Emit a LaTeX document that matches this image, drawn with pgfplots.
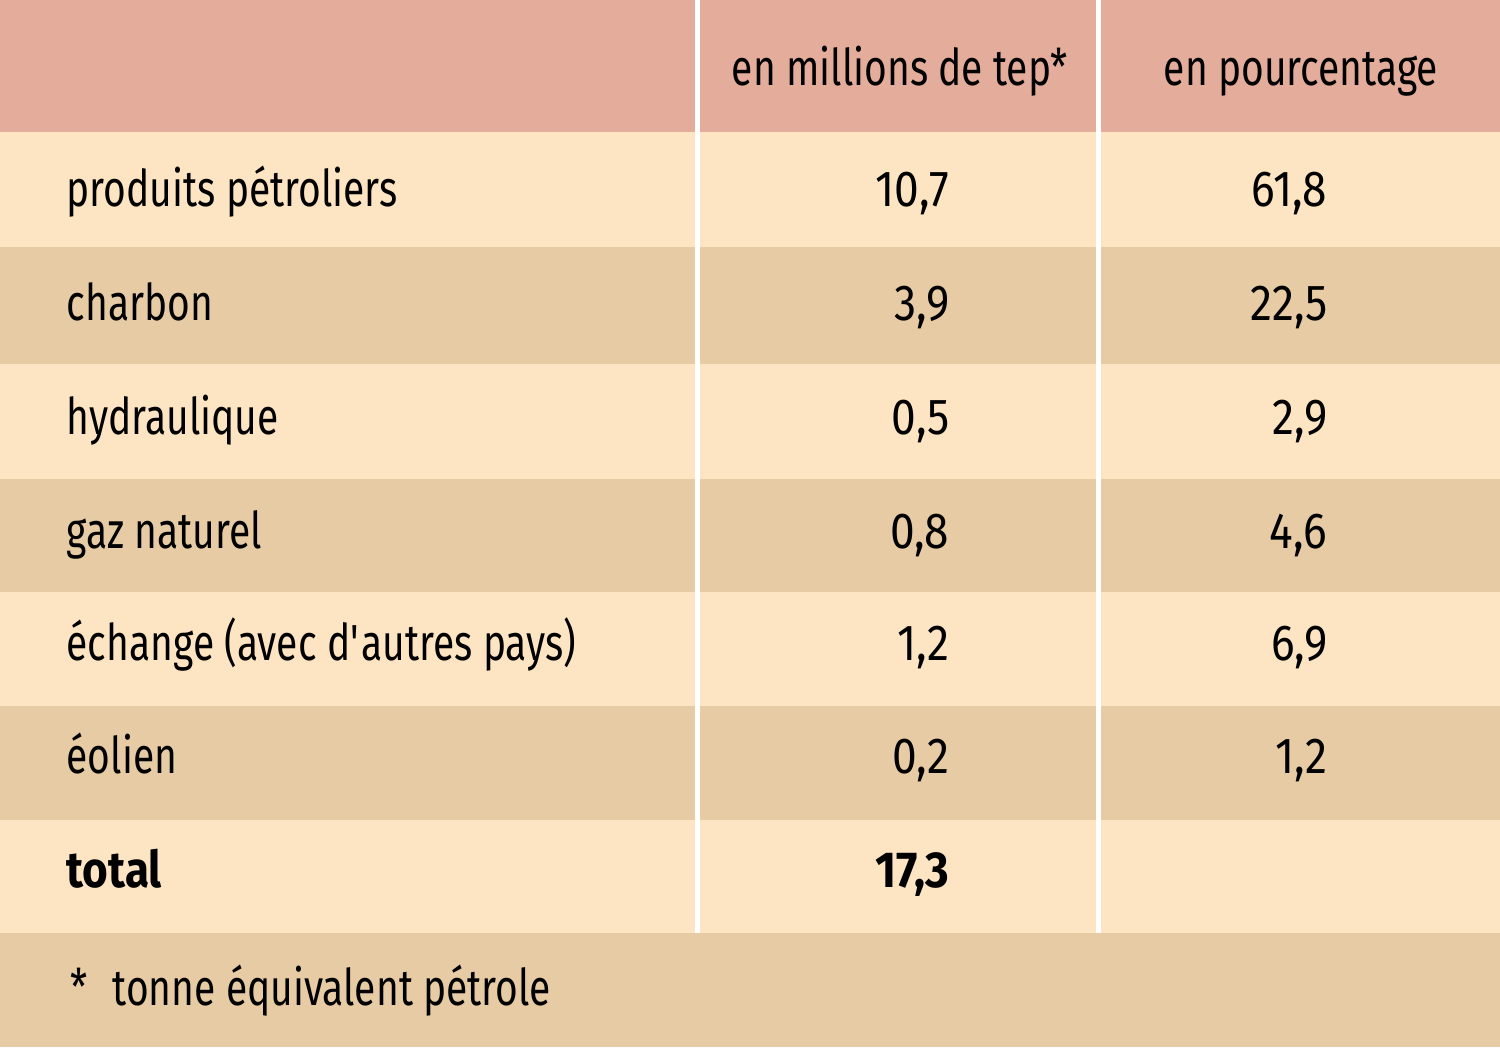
\documentclass[border=0pt]{standalone}
\usepackage{pgfplots}
\pgfplotsset{compat=1.18}
\usepackage{fontspec}
\setmainfont{Fira Sans}[FakeStretch=0.77, BoldFeatures={FakeStretch=0.87}]
\newfontfamily\numfont{Fira Sans}[FakeStretch=0.875, BoldFeatures={FakeStretch=0.9}]
\definecolor{hdr}{HTML}{E4AD9B}
\definecolor{light}{HTML}{FDE4C2}
\definecolor{dark}{HTML}{E6CBA4}
\newcommand{\cellfont}{\fontsize{14.4}{17}\selectfont}

\begin{document}
\begin{tikzpicture}
\begin{axis}[
    scale only axis,
    width=15cm, height=10.47cm,
    xmin=0, xmax=1500, ymin=0, ymax=1047,
    y dir=reverse,
    axis lines=none,
    clip=false,
    ]
% bands
\addplot[fill=hdr, draw=none] coordinates {(0,0) (1500,0) (1500,132) (0,132)} -- cycle;
\addplot[fill=light, draw=none] coordinates {(0,132) (1500,132) (1500,247) (0,247)} -- cycle;
\addplot[fill=dark, draw=none] coordinates {(0,247) (1500,247) (1500,364) (0,364)} -- cycle;
\addplot[fill=light, draw=none] coordinates {(0,364) (1500,364) (1500,479) (0,479)} -- cycle;
\addplot[fill=dark, draw=none] coordinates {(0,479) (1500,479) (1500,592) (0,592)} -- cycle;
\addplot[fill=light, draw=none] coordinates {(0,592) (1500,592) (1500,706) (0,706)} -- cycle;
\addplot[fill=dark, draw=none] coordinates {(0,706) (1500,706) (1500,820) (0,820)} -- cycle;
\addplot[fill=light, draw=none] coordinates {(0,820) (1500,820) (1500,933) (0,933)} -- cycle;
\addplot[fill=dark, draw=none] coordinates {(0,933) (1500,933) (1500,1047) (0,1047)} -- cycle;
% column separators
\addplot[white, line width=1.7pt] coordinates {(697.5,0) (697.5,933)};
\addplot[white, line width=1.7pt] coordinates {(1098.5,0) (1098.5,933)};

% first column
\addplot[draw=none, mark=none, nodes near coords, point meta=explicit symbolic,
    nodes near coords style={anchor=base west, inner sep=0pt, font=\cellfont}]
    table[col sep=semicolon, row sep=\\, x=x, y=y, meta=t] {
x;y;t\\
66;206;produits pétroliers\\
66;320;charbon\\
66;434;hydraulique\\
66;548;gaz naturel\\
66;660;échange (avec d\textquotesingle autres pays)\\
66;773;éolien\\
70;1005;*\\
112;1005;tonne équivalent pétrole\\
};
% tep column
\addplot[draw=none, mark=none, nodes near coords, point meta=explicit symbolic,
    nodes near coords style={anchor=base east, inner sep=0pt, font=\cellfont\numfont}]
    table[col sep=semicolon, row sep=\\, x=x, y=y, meta=t] {
x;y;t\\
950;206;10,7\\
950;320;3,9\\
950;434;0,5\\
950;548;0,8\\
950;660;1,2\\
950;773;0,2\\
};
% percentage column
\addplot[draw=none, mark=none, nodes near coords, point meta=explicit symbolic,
    nodes near coords style={anchor=base east, inner sep=0pt, font=\cellfont\numfont}]
    table[col sep=semicolon, row sep=\\, x=x, y=y, meta=t] {
x;y;t\\
1328;206;61,8\\
1328;320;22,5\\
1328;434;2,9\\
1328;548;4,6\\
1328;660;6,9\\
1328;773;1,2\\
};
% header
\addplot[draw=none, mark=none, nodes near coords, point meta=explicit symbolic,
    nodes near coords style={anchor=base, inner sep=0pt, font=\cellfont}]
    table[col sep=semicolon, row sep=\\, x=x, y=y, meta=t] {
x;y;t\\
900;85;en millions de tep*\\
1301;85;en pourcentage\\
};
% total row
\addplot[draw=none, mark=none, nodes near coords, point meta=explicit symbolic,
    nodes near coords style={anchor=base west, inner sep=0pt, font=\cellfont\bfseries}]
    table[col sep=semicolon, row sep=\\, x=x, y=y, meta=t] {
x;y;t\\
66;887;total\\
};
\addplot[draw=none, mark=none, nodes near coords, point meta=explicit symbolic,
    nodes near coords style={anchor=base east, inner sep=0pt, font=\cellfont\numfont\bfseries}]
    table[col sep=semicolon, row sep=\\, x=x, y=y, meta=t] {
x;y;t\\
950;887;17,3\\
};
\end{axis}
\pgfresetboundingbox
\path (current axis.south west) rectangle (current axis.north east);
\end{tikzpicture}
\end{document}
